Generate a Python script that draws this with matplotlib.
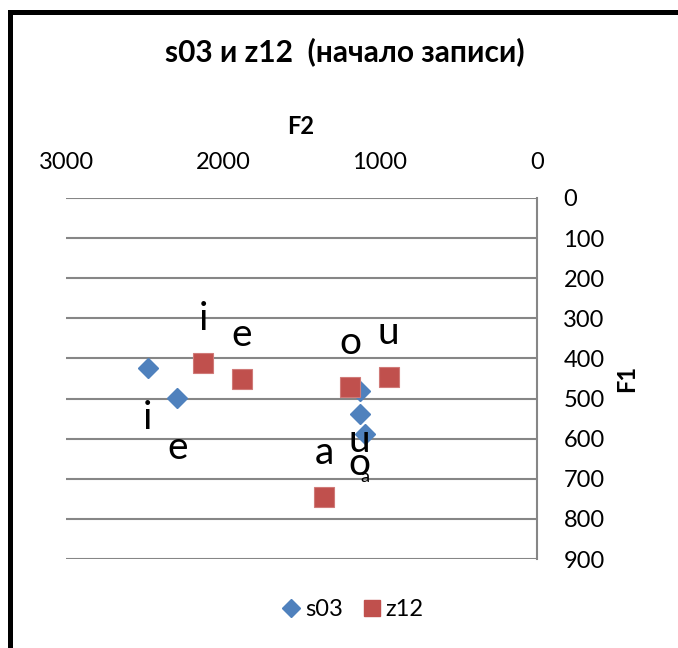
import matplotlib
matplotlib.use("Agg")
import matplotlib.pyplot as plt
from matplotlib.lines import Line2D

plt.rcParams['font.family'] = ['Lato', 'DejaVu Sans']

# formants, speaker s03
s03_f2 = [2480, 2290, 1130, 1130, 1095]
s03_f1 = [425, 498, 480, 539, 589]
s03_lab = ['i', 'e', 'u', 'o', 'a']

# formants, speaker z12
z12_f2 = [2125, 1880, 1190, 945, 1355]
z12_f1 = [412, 451, 470, 446, 745]
z12_lab = ['i', 'e', 'o', 'u', 'a']

blue = '#4F81BD'
red = '#C0504D'

fig = plt.figure(figsize=(6.78, 6.48), dpi=100)
ax = fig.add_axes([66 / 678, 1 - 559 / 648, 471 / 678, 361 / 648])

ax.plot(s03_f2, s03_f1, 'D', color=blue, ms=9.9, mec=blue, label='s03', zorder=3)
ax.plot(z12_f2, z12_f1, 's', color=red, ms=14.2, mec='#D07A78', mew=0.8, label='z12', zorder=4)

# vowel labels: z12 above the points, s03 below
for x, y, t in zip(z12_f2, z12_f1, z12_lab):
    ax.annotate(t, (x, y), xytext=(0, 33), textcoords='offset pixels',
                ha='center', va='baseline', fontsize=28, zorder=5)
for i, (x, y, t) in enumerate(zip(s03_f2, s03_f1, s03_lab)):
    small = i == len(s03_lab) - 1
    ax.annotate(t, (x, y), xytext=(0, -48 if small else -61), textcoords='offset pixels',
                ha='center', va='baseline', fontsize=13 if small else 28, zorder=5)

ax.set_xlim(3000, 0)
ax.set_ylim(900, 0)
ax.set_xticks([3000, 2000, 1000, 0])
ax.set_yticks(range(0, 901, 100))
ax.xaxis.tick_top()
ax.yaxis.tick_right()
ax.tick_params(axis='x', length=0, pad=18, labelsize=17)
ax.tick_params(axis='y', length=0, pad=19, labelsize=17)
for lbl in ax.get_yticklabels():
    lbl.set_horizontalalignment('left')

ax.grid(axis='y', color='#868686', lw=1.5)
ax.set_axisbelow(True)
for side in ['top', 'bottom', 'left']:
    ax.spines[side].set_visible(False)
ax.spines['right'].set_color('#868686')
ax.spines['right'].set_linewidth(1.5)

fig.text(301 / 678, 1 - 126 / 648, 'F2', ha='center', va='center',
         fontsize=17, fontweight='bold')
fig.text(627 / 678, 1 - 378 / 648, 'F1', ha='center', va='center',
         fontsize=17, fontweight='bold', rotation=90)
fig.text(345 / 678, 1 - 52 / 648, 's03 и z12  (начало записи)', ha='center',
         va='center', fontsize=21.5, fontweight='bold')

handles = [Line2D([], [], ls='', marker='D', color=blue, ms=9.5),
           Line2D([], [], ls='', marker='s', color=red, ms=12)]
fig.legend(handles, ['s03', 'z12'], loc='center', bbox_to_anchor=(354 / 678, 1 - 610 / 648),
           ncol=2, frameon=False, fontsize=17, handlelength=0.6, handletextpad=0.3,
           columnspacing=0.9)

# frame lines along the left and top edges
fig.add_artist(Line2D([9.5 / 678, 9.5 / 678], [0, 1 - 11.5 / 648], color='black', lw=3.6,
                      solid_capstyle='projecting'))
fig.add_artist(Line2D([9.5 / 678, 1], [1 - 11.5 / 648, 1 - 11.5 / 648], color='black', lw=3.6,
                      solid_capstyle='projecting'))

fig.savefig('out.png', dpi=100)
